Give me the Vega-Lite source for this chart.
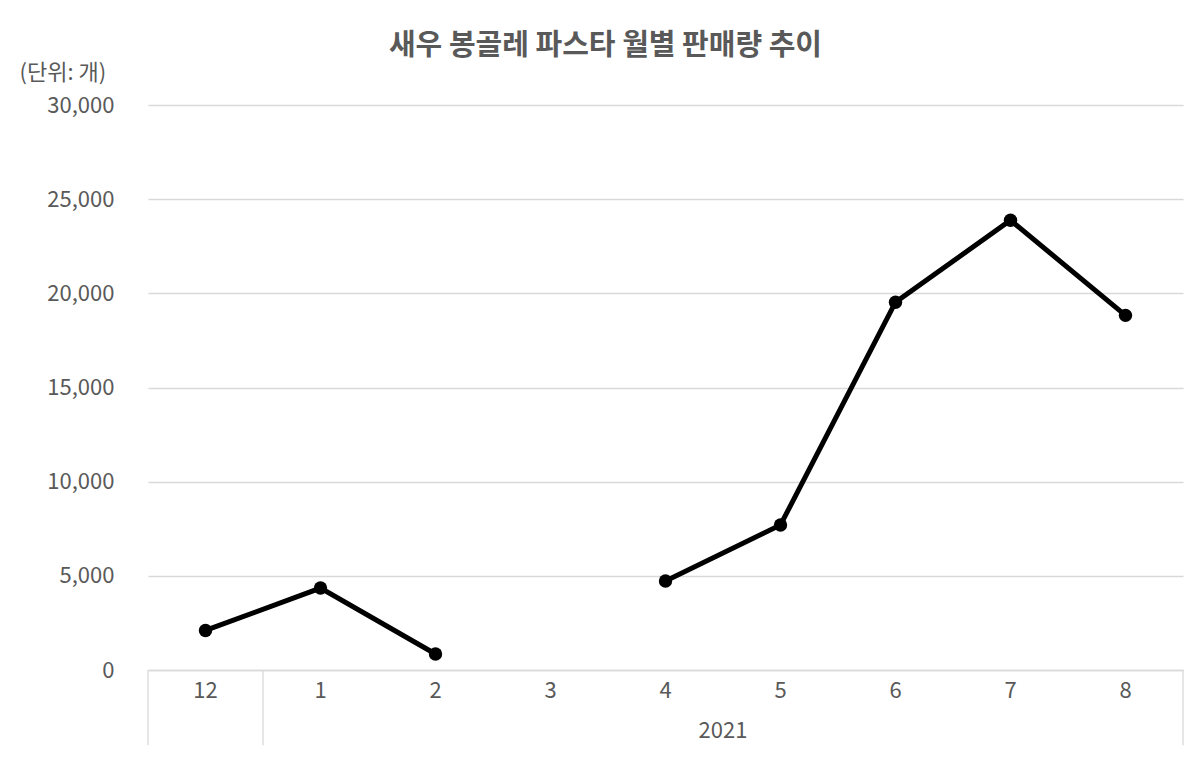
{
  "$schema": "https://vega.github.io/schema/vega-lite/v6.json",
  "autosize": "none",
  "width": 1035,
  "height": 565,
  "padding": {"left": 148, "top": 105, "right": 14, "bottom": 114},
  "background": "white",
  "config": {
    "font": "Noto Sans CJK KR",
    "view": {"stroke": null},
    "axis": {"labelFont": "Noto Sans CJK KR", "labelColor": "#595959", "labelFontSize": 22, "titleFont": "Noto Sans CJK KR"}
  },
  "title": {
    "text": "새우 봉골레 파스타 월별 판매량 추이",
    "font": "Noto Sans CJK KR",
    "fontSize": 29,
    "fontWeight": "bold",
    "color": "#595959",
    "anchor": "middle",
    "frame": "group",
    "dx": -60,
    "offset": 0
  },
  "datasets": {
    "sales": [
      {"month": "12", "qty": 2100},
      {"month": "1", "qty": 4350},
      {"month": "2", "qty": 850},
      {"month": "3", "qty": null},
      {"month": "4", "qty": 4730},
      {"month": "5", "qty": 7700},
      {"month": "6", "qty": 19530},
      {"month": "7", "qty": 23880},
      {"month": "8", "qty": 18830}
    ],
    "leftEdges": [{"month": "12"}, {"month": "1"}],
    "rightEdges": [{"month": "8"}],
    "year": [{"month": "4", "label": "2021"}]
  },
  "encoding": {
    "x": {
      "field": "month",
      "type": "nominal",
      "scale": {"domain": ["12", "1", "2", "3", "4", "5", "6", "7", "8"], "paddingInner": 0, "paddingOuter": 0},
      "axis": {"title": null, "labelAngle": 0, "ticks": false, "domainColor": "#d9d9d9", "domainWidth": 1.5, "labelPadding": 10, "grid": false}
    }
  },
  "layer": [
    {
      "data": {"name": "sales"},
      "mark": {"type": "line", "color": "black", "strokeWidth": 5, "invalid": "break-paths-show-domains"},
      "encoding": {
        "y": {
          "field": "qty",
          "type": "quantitative",
          "scale": {"domain": [0, 30000], "nice": false},
          "axis": {
            "values": [0, 5000, 10000, 15000, 20000, 25000, 30000],
            "format": ",d",
            "domain": false,
            "ticks": false,
            "labelPadding": 34,
            "gridColor": "#d9d9d9",
            "gridWidth": 1.3,
            "title": "(단위: 개)",
            "titleAngle": 0,
            "titleAlign": "left",
            "titleBaseline": "middle",
            "titleX": -129,
            "titleY": -33,
            "titleFontSize": 22,
            "titleFontWeight": "normal",
            "titleColor": "#595959"
          }
        }
      }
    },
    {
      "data": {"name": "sales"},
      "mark": {"type": "point", "filled": true, "color": "black", "size": 180, "opacity": 1},
      "encoding": {
        "y": {"field": "qty", "type": "quantitative"}
      }
    },
    {
      "data": {"name": "leftEdges"},
      "mark": {"type": "rule", "color": "#d9d9d9", "strokeWidth": 1.3},
      "encoding": {
        "x": {"field": "month", "type": "nominal", "bandPosition": 0},
        "y": {"datum": 0},
        "y2": {"datum": -4000}
      }
    },
    {
      "data": {"name": "rightEdges"},
      "mark": {"type": "rule", "color": "#d9d9d9", "strokeWidth": 1.3},
      "encoding": {
        "x": {"field": "month", "type": "nominal", "bandPosition": 1},
        "y": {"datum": 0},
        "y2": {"datum": -4000}
      }
    },
    {
      "data": {"name": "year"},
      "mark": {"type": "text", "font": "Noto Sans CJK KR", "fontSize": 22, "color": "#595959", "baseline": "middle", "align": "center"},
      "encoding": {
        "x": {"field": "month", "type": "nominal", "bandPosition": 1},
        "y": {"datum": -3250},
        "text": {"field": "label"}
      }
    }
  ]
}
